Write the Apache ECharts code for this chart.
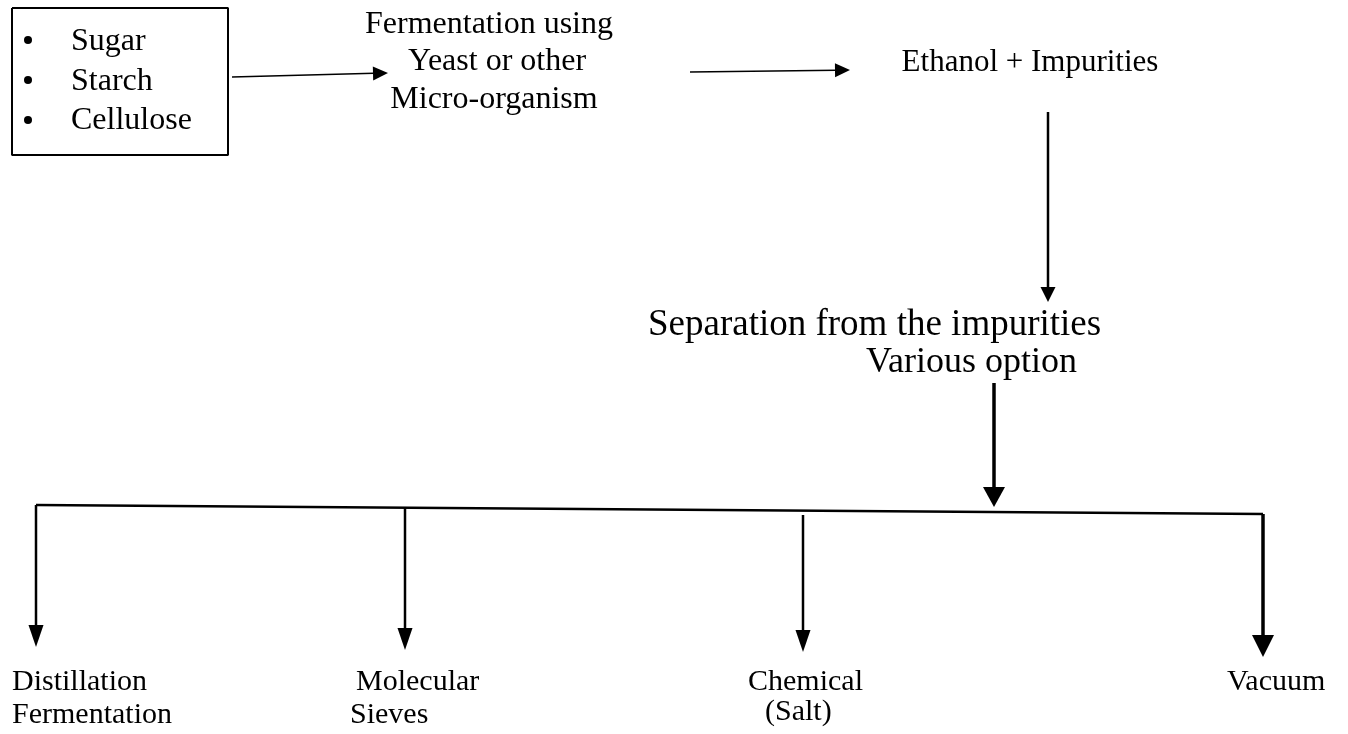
<!DOCTYPE html>
<html><head><meta charset="utf-8">
<script src="https://cdn.jsdelivr.net/npm/echarts@6/dist/echarts.min.js"></script>
<style>html,body{margin:0;padding:0;background:#fff}#c{width:1348px;height:734px}</style>
</head><body><div id="c"></div>
<script>
// Diagram data in diagram units (x right, y down)
const boxCorners = [[12,8],[228,8],[228,155],[12,155],[12,8]];
const bulletPoints = [[28,40],[28,80],[28,120]];
const boxItems = ['Sugar','Starch','Cellulose'];
const boxItemPos = [[71,52],[71,92],[71,131]];
const stepLabels = ['Fermentation using','Yeast or other','Micro-organism'];
const stepLabelPos = [[489,35],[497,72],[494,110]];
const productLabels = ['Ethanol + Impurities'];
const productLabelPos = [[1030,73]];
const sepLabels = ['Separation from the impurities'];
const sepLabelPos = [[648,338]];
const optionLabels = ['Various option'];
const optionLabelPos = [[866,375]];
const methodLabels = ['Distillation','Fermentation','Molecular','Sieves','Chemical','(Salt)','Vacuum'];
const methodLabelPos = [[12,692],[12,725],[356,692],[350,725],[748,692],[765,722],[1227,692]];
const flowArrows = [[232,77,388,73],[690,72,850,70]];
const ethanolArrow = [[1048,112,1048,302]];
const sepArrow = [[994,383,994,507]];
const branchLine = [[36,505],[1263,514]];
const branchArrows = [[36,505,36,647],[405,507,405,650],[803,515,803,652]];
const vacuumArrow = [[1263,514,1263,657]];

const FONT = '"Liberation Serif", "Times New Roman", Times, serif';

function arrowSeries(data, lw, headLen, headW) {
  return {
    type: 'custom', coordinateSystem: 'cartesian2d', silent: true, data: data,
    renderItem: function (params, api) {
      const p1 = api.coord([api.value(0), api.value(1)]);
      const p2 = api.coord([api.value(2), api.value(3)]);
      const dx = p2[0] - p1[0], dy = p2[1] - p1[1];
      const L = Math.sqrt(dx * dx + dy * dy);
      const ux = dx / L, uy = dy / L;
      const bx = p2[0] - ux * headLen, by = p2[1] - uy * headLen;
      const nx = -uy, ny = ux;
      return {
        type: 'group', children: [
          { type: 'line', shape: { x1: p1[0], y1: p1[1], x2: bx + ux, y2: by + uy }, style: { stroke: '#000', lineWidth: lw } },
          { type: 'polygon', shape: { points: [[p2[0], p2[1]], [bx + nx * headW / 2, by + ny * headW / 2], [bx - nx * headW / 2, by - ny * headW / 2]] }, style: { fill: '#000' } }
        ]
      };
    }
  };
}

function textSeries(names, pos, fs, align) {
  return {
    type: 'custom', coordinateSystem: 'cartesian2d', silent: true, data: pos,
    renderItem: function (params, api) {
      const p = api.coord([api.value(0), api.value(1)]);
      return {
        type: 'text', x: p[0], y: p[1] - 0.3375 * fs,
        style: { text: names[params.dataIndex], fontFamily: FONT, fontSize: fs, fill: '#000', align: align, verticalAlign: 'middle' }
      };
    }
  };
}

const chart = echarts.init(document.getElementById('c'), null, { renderer: 'canvas' });
chart.setOption({
  backgroundColor: '#fff',
  animation: false,
  grid: { left: 0, right: 0, top: 0, bottom: 0 },
  xAxis: { type: 'value', min: 0, max: 1348, show: false },
  yAxis: { type: 'value', min: 0, max: 734, inverse: true, show: false },
  series: [
    { type: 'line', data: boxCorners, symbol: 'none', silent: true, lineStyle: { color: '#000', width: 2 } },
    { type: 'scatter', data: bulletPoints, symbol: 'circle', symbolSize: 8, silent: true, itemStyle: { color: '#000', opacity: 1 } },
    textSeries(boxItems, boxItemPos, 32, 'left'),
    textSeries(stepLabels, stepLabelPos, 32, 'center'),
    textSeries(productLabels, productLabelPos, 31, 'center'),
    textSeries(sepLabels, sepLabelPos, 37, 'left'),
    textSeries(optionLabels, optionLabelPos, 36, 'left'),
    textSeries(methodLabels, methodLabelPos, 30, 'left'),
    arrowSeries(flowArrows, 1.5, 15, 14),
    arrowSeries(ethanolArrow, 2.5, 15, 15),
    arrowSeries(sepArrow, 3.5, 20, 22),
    { type: 'line', data: branchLine, symbol: 'none', silent: true, lineStyle: { color: '#000', width: 2.5 } },
    arrowSeries(branchArrows, 2.5, 22, 15),
    arrowSeries(vacuumArrow, 3.5, 22, 22)
  ]
});
</script>
</body></html>
